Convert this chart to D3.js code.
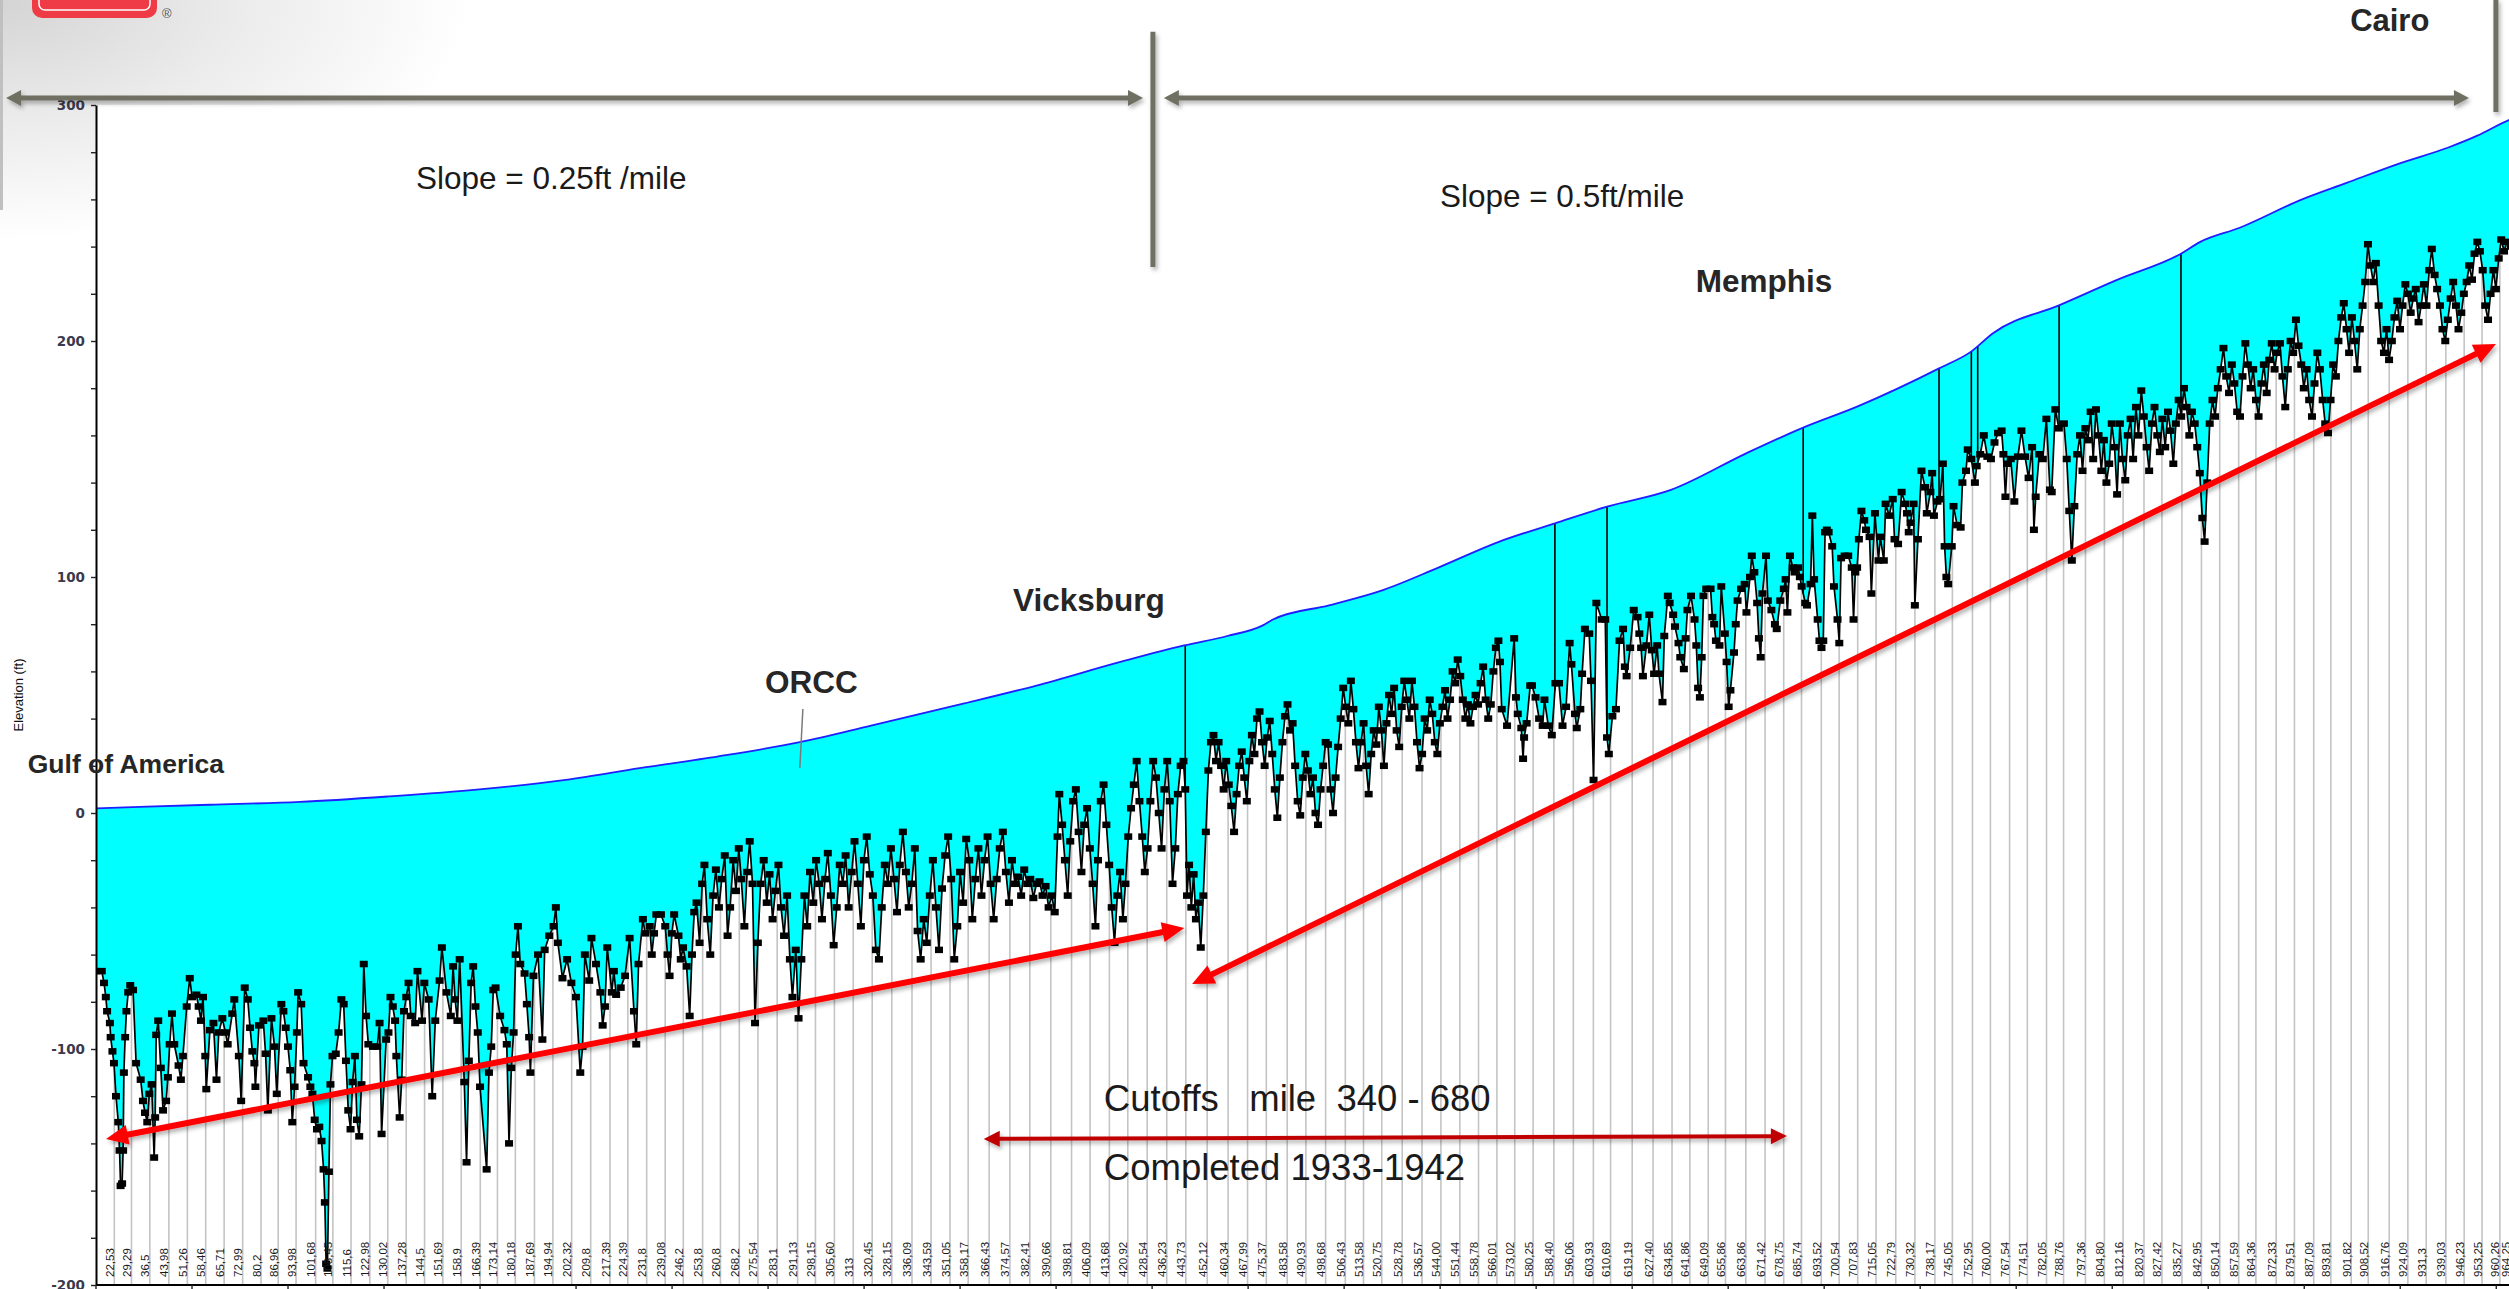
<!DOCTYPE html>
<html>
<head>
<meta charset="utf-8">
<script src="https://cdn.jsdelivr.net/npm/d3@7"></script>
<style>
  html, body { margin: 0; padding: 0; background: #fff; overflow: hidden; }
  svg { display: block; }
</style>
</head>
<body>
<div id="vis"></div>
<script>
// DATA
const xLabels = ["22,53","29,29","36,5","43,98","51,26","58,46","65,71","72,99","80,2","86,96",
  "93,98","101,68","108,45","115,6","122,98","130,02","137,28","144,5","151,69","158,9",
  "166,39","173,14","180,18","187,69","194,94","202,32","209,8","217,39","224,39","231,8",
  "239,08","246,2","253,8","260,8","268,2","275,54","283,1","291,13","298,15","305,60",
  "313","320,45","328,15","336,09","343,59","351,05","358,17","366,43","374,57","382,41",
  "390,66","398,81","406,09","413,68","420,92","428,54","436,23","443,73","452,12","460,34",
  "467,99","475,37","483,58","490,93","498,68","506,43","513,58","520,75","528,78","536,57",
  "544,00","551,44","558,78","566,01","573,02","580,25","588,40","596,06","603,93","610,69",
  "619,19","627,40","634,85","641,86","649,09","655,86","663,86","671,42","678,75","685,74",
  "693,52","700,54","707,83","715,05","722,79","730,32","738,17","745,05","752,95","760,00",
  "767,54","774,51","782,05","788,76","797,36","804,80","812,16","820,37","827,42","835,27",
  "842,95","850,14","857,59","864,36","872,33","879,51","887,09","893,81","901,82","908,52",
  "916,76","924,09","931,3","939,03","946,23","953,25","960,26","964,25"];

// water surface [river mile, elevation ft]
const waterSurface = [[15.3,2],[60,3.5],[95.5,4.7],[130,7],[166,10],[200,14],[229,19],[260,24],
  [292,30],[320,37],[355,46],[385,54],[418,64],[443,71],[460,75],[474,79.5],[478,82],[500,88],
  [520,94],[543,104],[567,115],[588.8,122.7],[609.3,129.8],[634.4,136.9],[664,152.4],[686.4,163.3],
  [707.6,172.2],[739.8,188.4],[752.4,195.5],[761,203.3],[787.4,215.3],[810,226],[834.9,237],
  [842.5,242],[858,248],[881.8,259.7],[900,267],[921.2,275.4],[940,282],[951.4,287],
  [963.8,293.6],[980,299]];

// thalweg (bed) [river mile, elevation ft]
const bed = [
  [15.3,-67],[17.6,-67],[18.5,-72],[19.2,-78],[19.7,-84],[20.8,-89],[21.1,-95],[21.8,-101],[22.4,-106],[23.2,-120],
  [24.1,-131],[24.6,-143],[25.0,-158],[25.6,-157],[26.0,-143],[26.3,-110],[26.8,-95],[27.3,-84],[28.0,-76],[28.8,-73],
  [29.9,-75],[31.1,-106],[32.9,-113],[33.8,-122],[34.6,-127],[35.5,-131],[36.3,-119],[37.2,-115],[38.2,-146],[38.6,-129],
  [39.0,-94],[39.8,-88],[40.8,-108],[41.7,-126],[42.9,-122],[43.6,-112],[44.3,-98],[45.2,-85],[46.1,-98],[47.8,-107],
  [48.7,-113],[49.5,-103],[51.0,-82],[52.2,-70],[53.1,-78],[54.8,-77],[55.7,-82],[56.6,-88],[57.4,-78],[58.3,-103],
  [58.7,-117],[60.1,-92],[61.5,-89],[62.7,-113],[63.6,-93],[65.0,-87],[66.2,-93],[67.1,-98],[68.9,-85],[69.7,-79],
  [71.5,-103],[72.4,-122],[73.8,-74],[75.0,-79],[75.9,-91],[76.8,-101],[77.6,-106],[78.0,-116],[79.4,-90],[81.1,-88],
  [82.0,-102],[82.9,-126],[84.3,-87],[85.5,-99],[86.4,-119],[88.2,-81],[89.0,-84],[89.9,-91],[90.8,-99],[91.7,-109],
  [92.5,-131],[93.4,-116],[94.3,-93],[94.8,-76],[96.0,-81],[96.9,-106],[98.7,-112],[99.6,-116],[100.4,-119],[101.3,-130],
  [102.2,-134],[103.1,-133],[104.0,-139],[104.8,-151],[105.3,-165],[105.8,-191],[106.3,-193],[106.9,-152],[107.5,-115],[108.3,-103],
  [109.6,-102],[110.7,-93],[111.8,-79],[112.7,-81],[113.6,-105],[114.5,-126],[115.4,-134],[116.2,-114],[117.1,-103],[117.9,-130],
  [118.8,-137],[119.7,-115],[120.6,-64],[121.5,-86],[122.4,-98],[124.2,-99],[125.9,-99],[126.8,-89],[127.6,-136],[129.4,-96],
  [130.3,-93],[131.1,-78],[132.0,-82],[132.9,-88],[133.4,-103],[134.7,-129],[135.5,-113],[136.4,-84],[137.3,-78],[138.2,-72],
  [139.1,-86],[140.8,-89],[141.7,-67],[143.5,-88],[144.4,-72],[146.1,-79],[147.5,-120],[148.7,-88],[150.4,-71],[151.3,-57],
  [153.1,-76],[154.8,-86],[155.7,-65],[156.5,-79],[157.4,-88],[158.3,-62],[160.1,-114],[161.0,-148],[161.9,-105],[162.8,-72],
  [163.6,-65],[164.5,-82],[165.4,-93],[166.3,-116],[168.9,-151],[169.8,-110],[170.7,-99],[171.5,-75],[172.4,-74],[174.2,-86],
  [175.9,-92],[176.8,-98],[177.7,-140],[178.6,-108],[179.5,-93],[180.3,-60],[181.2,-48],[182.1,-64],[183.8,-68],[184.7,-81],
  [185.6,-95],[186.1,-110],[187.3,-69],[189.1,-60],[190.8,-96],[191.7,-58],[193.5,-52],[195.2,-48],[196.1,-40],[196.9,-55],
  [198.7,-70],[200.5,-62],[202.2,-72],[204.0,-78],[205.7,-110],[206.6,-99],[207.5,-60],[209.2,-71],[210.1,-53],[211.9,-64],
  [213.6,-76],[214.5,-90],[215.4,-82],[216.3,-57],[218.1,-76],[218.9,-67],[219.8,-77],[221.6,-74],[223.3,-69],[225.1,-53],
  [226.8,-84],[227.7,-98],[228.6,-64],[230.3,-45],[231.2,-51],[233.0,-48],[233.8,-60],[234.7,-51],[235.6,-43],[237.4,-43],
  [239.1,-48],[240.0,-60],[240.8,-69],[241.7,-51],[242.6,-43],[244.3,-52],[245.2,-62],[246.1,-57],
  [247.5,-65],[248.7,-86],[249.6,-60],[250.5,-42],[251.4,-38],[252.6,-55],[253.6,-30],[254.5,-22],[255.6,-45],[256.8,-60],
  [257.9,-35],[259.0,-24],[260.2,-40],[261.3,-28],[262.5,-18],[263.6,-52],[264.6,-40],[265.8,-20],[266.9,-33],[268.0,-15],
  [269.0,-28],[270.2,-48],[271.3,-25],[272.3,-12],[273.4,-30],[274.4,-89],[275.5,-55],[276.6,-30],[277.8,-20],[279.0,-38],
  [280.1,-26],[281.3,-45],[282.4,-33],[283.6,-22],[284.6,-40],[285.8,-52],[287.0,-35],[288.1,-62],[289.1,-78],[290.4,-58],
  [291.5,-87],[292.6,-62],[293.8,-35],[294.9,-48],[296.0,-25],[297.3,-38],[298.4,-20],[299.6,-30],[300.7,-45],[301.9,-28],
  [303.0,-17],[304.2,-35],[305.3,-56],[306.5,-40],[307.7,-22],[308.9,-30],[310.0,-18],[311.2,-40],[312.4,-25],[313.5,-12],
  [314.8,-30],[316.0,-48],[317.2,-20],[318.3,-10],[319.5,-26],[320.7,-35],[321.9,-58],[323.1,-62],[324.2,-40],[325.4,-22],
  [326.6,-30],[327.8,-15],[329.0,-28],[330.2,-42],[331.3,-22],[332.5,-8],[333.7,-25],[334.8,-40],[336.0,-30],[337.2,-15],
  [338.3,-50],[339.5,-62],[340.7,-45],[341.9,-55],[343.1,-35],[344.3,-20],[345.5,-40],[346.7,-58],[347.9,-32],[349.1,-18],
  [350.3,-10],[351.5,-28],[352.7,-62],[353.9,-48],[355.0,-25],[356.2,-38],[357.4,-11],[358.6,-20],[359.8,-45],[361.0,-28],
  [362.2,-15],[363.4,-35],[364.6,-20],[365.8,-10],[367.0,-30],[368.2,-45],[369.4,-28],[370.6,-15],[371.8,-8],[373.0,-25],
  [374.2,-38],[375.4,-20],[376.6,-30],[377.8,-27],[379.0,-35],[380.2,-24],[381.4,-30],[382.6,-28],[383.8,-36],[385.0,-30],
  [386.2,-29],[387.4,-35],[388.6,-31],[389.8,-40],[391.0,-35],[392.2,-42],[393.3,-10],[394.0,8],[395.1,-5],[396.2,-20],
  [397.3,-35],[398.3,-12],[399.4,5],[400.5,10],[401.6,-8],[402.7,-25],[403.8,-5],[404.9,2],[406.0,-15],[407.1,-30],
  [408.2,-48],[409.2,-20],[410.3,5],[411.4,12],[412.5,-5],[413.6,-22],[414.6,-40],[415.7,-55],[416.8,-35],[417.9,-25],
  [419.0,-45],[420.0,-30],[421.1,-10],[422.2,2],[423.3,12],[424.4,22],[425.5,5],[426.6,-10],[427.6,-25],[428.7,-15],
  [429.8,5],[430.9,22],[432.0,15],[433.1,0],[434.2,-15],[435.3,10],[436.4,22],[437.4,5],[438.5,-30],[439.6,-15],
  [440.6,8],[441.7,20],[442.8,22],[443.5,10],[444.2,-35],[445.0,-22],[445.9,-40],[446.8,-26],[447.7,-45],[448.6,-38],
  [449.6,-57],[450.6,-35],[451.6,-8],[452.6,18],[453.6,30],[454.6,33],[455.6,22],[456.6,30],[457.6,20],[458.6,10],
  [459.6,22],[460.6,12],[461.6,3],[462.7,-8],[463.7,8],[464.7,20],[465.7,26],[466.7,15],[467.7,5],[468.7,22],
  [469.7,33],[470.7,25],[471.7,40],[472.7,43],[473.7,30],[474.7,20],[475.7,32],[476.7,39],[477.7,25],[478.7,10],
  [479.7,-2],[480.7,15],[481.7,30],[482.7,41],[483.7,46],[484.7,35],[485.7,38],[486.7,20],[487.7,5],[488.7,-1],
  [489.7,15],[490.7,25],[491.7,18],[492.7,8],[493.7,15],[494.7,0],[495.7,-5],[496.7,10],[497.7,20],[498.7,30],
  [499.6,29],[500.6,10],[501.6,0],[502.6,15],[503.6,28],[504.6,40],[505.6,53],[506.6,45],[507.6,38],[508.6,56],
  [509.6,44],[510.6,30],[511.6,19],[512.6,30],[513.6,38],[514.6,20],[515.6,8],[516.6,25],[517.6,35],[518.6,29],
  [519.6,45],[520.6,35],[521.6,20],[522.6,38],[523.6,50],[524.6,42],[525.6,53],[526.6,35],[527.6,28],[528.6,45],
  [529.6,56],[530.6,48],[531.6,40],[532.6,56],[533.6,45],[534.6,30],[535.6,19],[536.6,25],[537.6,40],[538.6,35],
  [539.6,48],[540.6,42],[541.6,30],[542.6,25],[543.6,38],[544.6,45],[545.6,52],[546.6,40],[547.6,48],[548.6,60],
  [549.6,55],[550.6,65],[551.6,58],[552.6,48],[553.6,40],[554.6,46],[555.6,38],[556.6,45],[557.6,50],[558.6,46],
  [559.6,55],[560.6,62],[561.6,48],[562.6,40],[563.6,46],[564.6,60],[565.6,70],[566.6,73],
  [567.2,64],[567.9,44],[570.0,37],[572.8,74],[573.5,49],[574.2,42],[575.6,36],[576.3,23],[576.7,32],[577.7,38],
  [579.1,54],[579.8,54],[581.2,49],[582.6,40],[584.0,37],[584.7,48],[586.2,37],[587.6,33],[589.0,55],[590.4,55],
  [591.8,37],[593.2,45],[594.6,72],[595.3,63],[596.7,42],[597.4,36],[598.8,44],[599.5,59],[600.6,78],[602.3,76],
  [603.0,56],[604.0,14],[605.1,89],[607.2,82],[608.6,82],[609.3,32],[610.0,25],[611.4,41],[612.8,44],[614.2,73],
  [615.6,78],[616.3,62],[617.0,58],[618.4,70],[619.8,86],[621.3,83],[622.0,76],[622.7,70],[623.4,58],[624.8,71],
  [625.9,84],[626.9,69],[627.8,59],[629.0,71],[629.7,59],[631.1,47],[631.8,75],[633.2,92],[633.9,89],[635.3,84],
  [636.0,79],[637.4,72],[638.1,66],[639.5,61],[640.2,74],[640.9,86],[642.3,92],[643.7,82],[644.4,71],[645.1,53],
  [645.8,49],[646.5,66],[647.2,92],[648.3,95],[650.0,95],[650.7,83],[651.4,80],[652.1,73],[653.5,71],[654.2,96],
  [655.6,76],[656.3,64],[657.1,45],[657.8,52],[659.2,68],[659.9,80],[660.6,90],[662.0,95],[663.4,97],[664.1,85],
  [665.5,100],[666.2,109],[667.2,102],[668.3,89],[669.0,74],[669.7,66],[670.4,93],[671.8,109],[672.5,90],[673.9,86],
  [675.3,80],[676.0,78],[677.4,90],[678.8,95],[679.5,99],[680.2,85],[681.2,109],[682.3,104],[683.0,102],[684.4,104],
  [685.1,100],[685.8,96],[687.2,89],[687.9,88],[689.3,97],[690.0,126],[690.7,99],[692.1,82],[692.8,73],[693.6,70],
  [694.3,73],[695.0,119],[695.7,120],[696.4,119],[697.8,113],[698.5,96],[699.9,82],[700.6,72],[701.3,108],[702.7,109],
  [704.1,109],[705.5,104],[706.2,82],[706.9,102],[707.6,104],[708.3,116],[709.3,128],[710.4,124],[711.1,120],[712.5,117],
  [713.2,93],[714.6,127],[716.0,107],[716.7,117],[718.1,107],[718.8,131],[720.2,126],[721.6,133],[722.3,116],[723.7,114],
  [725.1,136],[726.5,131],[727.2,127],[727.9,119],[728.6,123],[729.8,131],[730.3,88],[731.5,116],[732.9,145],[734.3,138],
  [735.0,127],[736.4,136],[737.1,144],[737.8,126],[739.2,132],[740.2,133],[741.3,148],[742.0,113],[742.7,100],[743.4,97],
  [744.8,113],[745.5,130],[746.9,122],[748.3,121],[749.0,140],[750.4,145],[751.1,154],[752.5,150],[753.9,140],[754.6,147],
  [756.0,152],[757.4,160],[758.8,151],[760.2,150],[761.6,157],[763.0,161],[764.4,162],[765.1,152],[765.9,134],[766.6,148],
  [768.0,150],[769.4,132],[770.8,151],[772.2,162],[773.6,151],[775.0,142],[776.4,155],[777.1,120],[777.8,134],[779.2,152],
  [780.6,150],[782.0,167],[783.4,137],[784.1,136],[785.5,171],[786.9,163],
  [788.9,165],[790.0,150],[791.0,128],[792.0,107],[793.0,130],[794.1,152],[795.2,160],[796.2,145],[797.3,163],[798.3,158],
  [799.4,170],[800.4,150],[801.5,171],[802.5,160],[803.6,145],[804.6,158],[805.6,140],[806.7,148],[807.7,165],[808.8,155],
  [809.8,135],[810.9,165],[811.9,150],[813.0,141],[814.0,160],[815.1,167],[816.1,150],[817.2,172],[818.2,160],[819.3,179],
  [820.3,168],[821.4,155],[822.4,145],[823.5,165],[824.5,172],[825.6,160],[826.6,153],[827.6,167],[828.7,155],[829.8,170],
  [830.8,162],[831.9,148],[832.9,165],[834.0,175],[835.0,168],[836.1,180],[837.1,172],[838.2,160],[839.2,170],[840.3,165],
  [841.3,155],[842.3,144],[843.3,125],[844.2,115],[845.2,140],[846.2,165],[847.3,175],[848.3,168],[849.4,180],[850.5,188],
  [851.6,197],[852.7,185],[853.8,178],[854.9,190],[855.9,182],[857.0,170],[858.1,168],[859.1,185],[860.2,199],[861.2,190],
  [862.3,180],[863.3,188],[864.4,175],[865.4,168],[866.5,182],[867.5,190],[868.6,178],[869.6,192],[870.6,199],[871.7,188],
  [872.7,195],[873.8,199],[874.8,185],[875.9,172],[876.9,188],[878.0,200],[879.0,195],[880.1,209],[881.1,198],[882.2,190],
  [883.2,180],[884.3,188],[885.3,175],[886.4,168],[887.4,182],[888.5,195],[889.5,188],[890.6,175],[891.6,165],[892.7,161],
  [893.7,175],[894.7,190],[895.8,185],[896.8,200],[897.9,210],[898.9,216],[900.0,205],[901.0,195],[902.1,210],[903.1,200],
  [904.2,188],[905.2,205],[906.3,215],[907.3,225],[908.4,241],[909.4,232],[910.5,225],[911.5,233],[912.6,215],[913.6,200],
  [914.7,195],[915.7,205],[916.7,192],[917.8,200],[918.8,210],[919.9,217],[921.0,205],[922.0,215],[923.1,224],[924.1,220],
  [925.2,212],[926.2,218],[927.2,222],[928.3,208],[929.3,215],[930.4,224],[931.4,215],[932.5,230],[933.5,239],[934.6,228],
  [935.6,222],[936.7,215],[937.7,205],[938.8,200],[939.8,209],[940.9,218],[941.9,225],[943.0,215],[944.0,205],[945.1,212],
  [946.1,220],[947.2,225],[948.2,232],[949.3,226],[950.3,237],[951.4,242],[952.4,238],[953.5,230],[954.5,215],[955.6,209],
  [956.6,220],[957.7,230],[958.7,222],[959.8,235],[960.8,243],[961.9,238],[963.0,242],[964.5,240]];

// vertical drop lines from water surface to bed (river mile)
const dropLineMiles = [443.5, 588.8, 609.3, 686.4, 739.8, 752.5, 755, 787, 834.9];

const yTickValues = d3.range(-200, 301, 20);

const placeNames = [
  { text: "Gulf of America", mile: -11.5, elev: 16.9, size: 26.5 },
  { text: "ORCC", mile: 278.3, elev: 50.8, size: 31.5 },
  { text: "Vicksburg", mile: 375.8, elev: 85.6, size: 31.5 },
  { text: "Memphis", mile: 644.2, elev: 220.8, size: 31.5 },
  { text: "Cairo", mile: 901.4, elev: 331.4, size: 31 }
];

const notes = [
  { text: "Slope = 0.25ft /mile", mile: 141.1, elev: 264.4, size: 31.5 },
  { text: "Slope = 0.5ft/mile", mile: 543.6, elev: 256.8, size: 31.5 },
  { text: "Cutoffs\u00A0\u00A0 mile\u00A0 340 - 680", mile: 411.5, elev: -126.3, size: 36.5 },
  { text: "Completed 1933-1942", mile: 411.5, elev: -155.5, size: 36.5 }
];

// CHART
const W = 2509, H = 1289;
const FONT = "'Liberation Sans', Arial, sans-serif";

const svg = d3.select("#vis")
  .append("svg")
  .attr("width", W)
  .attr("height", H);

const defs = svg.append("defs");

const x = d3.scaleLinear()
  .domain([15.34, 980])
  .range([96, 96 + (980 - 15.34) * 2.544]);

const y = d3.scaleLinear()
  .domain([-200, 300])
  .range([1285, 105]);

const toMile = s => +s.replace(",", ".");

function valueAt(series, m) {
  const i = d3.bisector(d => d[0]).left(series, m);
  if (i <= 0) return series[0][1];
  if (i >= series.length) return series[series.length - 1][1];
  const a = series[i - 1], b = series[i];
  return a[1] + (b[1] - a[1]) * (m - a[0]) / (b[0] - a[0]);
}

// SLIDE BACKGROUND
const grad = defs.append("radialGradient")
  .attr("id", "bgGrad")
  .attr("cx", 0).attr("cy", 0).attr("r", 1);
grad.append("stop").attr("offset", 0).attr("stop-color", "#d4d4d4");
grad.append("stop").attr("offset", 0.5).attr("stop-color", "#ebebeb");
grad.append("stop").attr("offset", 1).attr("stop-color", "#ffffff");

svg.append("rect")
  .attr("x", 0).attr("y", 0)
  .attr("width", 470).attr("height", 240)
  .attr("fill", "url(#bgGrad)");

svg.append("rect")
  .attr("x", 0).attr("y", 0)
  .attr("width", 3).attr("height", 210)
  .attr("fill", "#c0c0c0");

svg.append("rect")
  .attr("x", 32).attr("y", -40)
  .attr("width", 125).attr("height", 58)
  .attr("rx", 10)
  .attr("fill", "#ee3b45");

svg.append("rect")
  .attr("x", 39).attr("y", -40)
  .attr("width", 111).attr("height", 50)
  .attr("rx", 6)
  .attr("fill", "none")
  .attr("stroke", "#fff")
  .attr("stroke-width", 1.5);

svg.append("text")
  .attr("x", 162).attr("y", 18)
  .attr("font-family", FONT)
  .attr("font-size", "13px")
  .attr("fill", "#555")
  .text("\u00AE");

const shadow = defs.append("filter")
  .attr("id", "shadow")
  .attr("filterUnits", "userSpaceOnUse")
  .attr("x", 0).attr("y", 0).attr("width", W).attr("height", H);
shadow.append("feDropShadow")
  .attr("dx", 2).attr("dy", 3)
  .attr("stdDeviation", 2)
  .attr("flood-color", "#000")
  .attr("flood-opacity", 0.3);

defs.append("clipPath").attr("id", "plotClip")
  .append("rect")
  .attr("x", 96).attr("y", 105)
  .attr("width", W - 96).attr("height", 1285 - 105);

const plot = svg.append("g").attr("clip-path", "url(#plotClip)");

// VERTICAL GRIDLINES
plot.append("g")
  .selectAll("line")
  .data(xLabels.map(toMile))
  .enter()
  .append("line")
  .attr("x1", d => x(d))
  .attr("x2", d => x(d))
  .attr("y1", y(300))
  .attr("y2", y(-200))
  .attr("stroke", "#c4c4c4")
  .attr("stroke-width", 1.6);

// WHITE ABOVE WATER SURFACE
plot.append("path")
  .datum(waterSurface)
  .attr("fill", "#fff")
  .attr("d", d3.area()
    .curve(d3.curveMonotoneX)
    .x(d => x(d[0]))
    .y0(y(300) - 2)
    .y1(d => y(d[1])));

// WATER BETWEEN SURFACE AND BED
const line = d3.line().x(d => x(d[0])).y(d => y(d[1]));
const smoothLine = d3.line().curve(d3.curveMonotoneX).x(d => x(d[0])).y(d => y(d[1]));

plot.append("path")
  .attr("fill", "#00ffff")
  .attr("d", smoothLine(waterSurface) + "L" + line(bed.slice().reverse()).slice(1) + "Z");

// DROP LINES
plot.append("g")
  .selectAll("line")
  .data(dropLineMiles)
  .enter()
  .append("line")
  .attr("x1", d => x(d))
  .attr("x2", d => x(d))
  .attr("y1", d => y(valueAt(waterSurface, d)))
  .attr("y2", d => y(valueAt(bed, d)))
  .attr("stroke", "#000")
  .attr("stroke-width", 1.6);

// BED PROFILE
plot.append("path")
  .datum(bed)
  .attr("fill", "none")
  .attr("stroke", "#000")
  .attr("stroke-width", 1.7)
  .attr("d", line);

plot.append("g")
  .selectAll("rect")
  .data(bed)
  .enter()
  .append("rect")
  .attr("x", d => x(d[0]) - 4)
  .attr("y", d => y(d[1]) - 3.25)
  .attr("width", 8)
  .attr("height", 6.5)
  .attr("fill", "#000");

// WATER SURFACE LINE
plot.append("path")
  .datum(waterSurface)
  .attr("fill", "none")
  .attr("stroke", "#1f1fff")
  .attr("stroke-width", 1.8)
  .attr("d", smoothLine);

// AXES
const yAxis = svg.append("g")
  .attr("transform", `translate(${x(15.34)},0)`)
  .call(d3.axisLeft(y)
    .tickValues(yTickValues)
    .tickSize(5)
    .tickSizeOuter(0)
    .tickPadding(6)
    .tickFormat(d => d % 100 === 0 ? String(d) : ""));

yAxis.select(".domain").attr("stroke", "#000").attr("stroke-width", 2);
yAxis.selectAll(".tick line").attr("stroke", "#222").attr("stroke-width", 1.4);
yAxis.selectAll("text")
  .attr("font-family", "'DejaVu Sans', Verdana, sans-serif")
  .attr("font-weight", "bold")
  .attr("font-size", "13.5px")
  .attr("fill", "#3a3a4c");

svg.append("line")
  .attr("x1", x(15.34)).attr("x2", W)
  .attr("y1", y(-200)).attr("y2", y(-200))
  .attr("stroke", "#000")
  .attr("stroke-width", 2);

svg.append("g")
  .selectAll("line")
  .data(d3.range(15.34, 985, 37.74))
  .enter()
  .append("line")
  .attr("x1", d => x(d))
  .attr("x2", d => x(d))
  .attr("y1", y(-200))
  .attr("y2", y(-200) + 5)
  .attr("stroke", "#222")
  .attr("stroke-width", 1.4);

svg.append("g")
  .selectAll("text")
  .data(xLabels)
  .enter()
  .append("text")
  .attr("transform", d => `translate(${x(toMile(d)) - 0.5},1277) rotate(-90)`)
  .attr("font-family", FONT)
  .attr("font-size", "11.5px")
  .attr("fill", "#1a1a1a")
  .text(d => d);

svg.append("text")
  .attr("transform", "translate(23,695) rotate(-90)")
  .attr("text-anchor", "middle")
  .attr("font-family", FONT)
  .attr("font-size", "13px")
  .attr("fill", "#111")
  .text("Elevation (ft)");

// ANNOTATIONS
function arrow(g, x1, y1, x2, y2, o) {
  const len = Math.hypot(x2 - x1, y2 - y1);
  const ux = (x2 - x1) / len, uy = (y2 - y1) / len;
  const px = -uy, py = ux;
  const sx = o.start ? x1 + ux * o.head * 0.8 : x1;
  const sy = o.start ? y1 + uy * o.head * 0.8 : y1;
  const ex = o.end ? x2 - ux * o.head * 0.8 : x2;
  const ey = o.end ? y2 - uy * o.head * 0.8 : y2;
  const a = g.append("g").attr("filter", o.shadow ? "url(#shadow)" : null);
  a.append("line")
    .attr("x1", sx).attr("y1", sy).attr("x2", ex).attr("y2", ey)
    .attr("stroke", o.color)
    .attr("stroke-width", o.width);
  const head = (tx, ty, dx, dy) => {
    const bx = tx - dx * o.head, by = ty - dy * o.head;
    a.append("polygon")
      .attr("points", [[tx, ty], [bx + px * o.half, by + py * o.half], [bx - px * o.half, by - py * o.half]].join(" "))
      .attr("fill", o.color);
  };
  if (o.end) head(x2, y2, ux, uy);
  if (o.start) head(x1, y1, -ux, -uy);
}

const ann = svg.append("g");

// section arrows along top
const grayArrow = { color: "#6f6f62", width: 5, head: 15, half: 8, start: true, end: true, shadow: true };
arrow(ann, x(-20), y(303), x(426.9), y(303), grayArrow);
arrow(ann, x(435.1), y(303), x(948.1), y(303), grayArrow);

[[430.8, 331, 231.4], [958.7, 345, 297]].forEach(([m, e1, e2]) => {
  ann.append("line")
    .attr("x1", x(m)).attr("x2", x(m))
    .attr("y1", y(e1)).attr("y2", y(e2))
    .attr("stroke", "#6f6f62")
    .attr("stroke-width", 5)
    .attr("filter", "url(#shadow)");
});

// trend arrows
const redArrow = { color: "#ff0000", width: 6, head: 22, half: 10, start: true, end: true, shadow: true };
arrow(ann, x(19.3), y(-138.1), x(443.1), y(-48.7), redArrow);
arrow(ann, x(446.2), y(-72.5), x(958.7), y(198.7), redArrow);

arrow(ann, x(364.3), y(-138.1), x(680), y(-136.9),
  { color: "#c00000", width: 4, head: 16, half: 8, start: true, end: true, shadow: true });

// ORCC pointer
ann.append("line")
  .attr("x1", x(293.2)).attr("y1", y(44.1))
  .attr("x2", x(292)).attr("y2", y(19.1))
  .attr("stroke", "#7a7a7a")
  .attr("stroke-width", 1.5);

ann.selectAll(".place")
  .data(placeNames)
  .enter()
  .append("text")
  .attr("class", "place")
  .attr("x", d => x(d.mile))
  .attr("y", d => y(d.elev))
  .attr("font-family", FONT)
  .attr("font-weight", "bold")
  .attr("font-size", d => d.size + "px")
  .attr("fill", "#262626")
  .text(d => d.text);

ann.selectAll(".note")
  .data(notes)
  .enter()
  .append("text")
  .attr("class", "note")
  .attr("x", d => x(d.mile))
  .attr("y", d => y(d.elev))
  .attr("font-family", FONT)
  .attr("font-size", d => d.size + "px")
  .attr("fill", "#1a1a1a")
  .text(d => d.text);
</script>
</body>
</html>
